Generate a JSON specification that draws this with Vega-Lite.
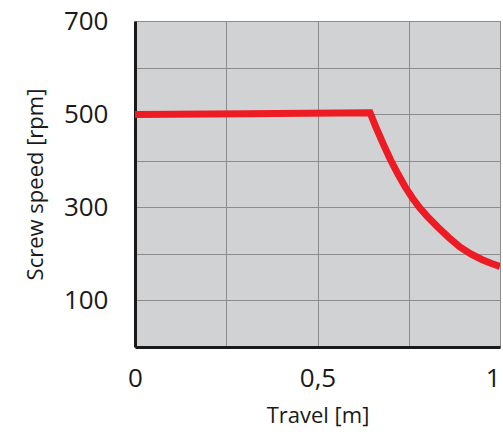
{
  "$schema": "https://vega.github.io/schema/vega-lite/v6.json",
  "autosize": "none",
  "width": 365,
  "height": 326,
  "padding": {"left": 135, "top": 21, "right": 3, "bottom": 85},
  "background": "white",
  "config": {
    "view": {"fill": "#D1D2D4", "stroke": "#8C8C8C", "strokeWidth": 1},
    "font": "Open Sans",
    "axis": {
      "grid": true,
      "gridColor": "#8C8C8C",
      "gridWidth": 1,
      "gridOpacity": 1,
      "ticks": false,
      "domainColor": "#1a1a1a",
      "domainWidth": 3,
      "labelColor": "#1a1a1a",
      "titleColor": "#1a1a1a",
      "labelFont": "Open Sans",
      "titleFont": "Open Sans",
      "labelFontSize": 26,
      "titleFontSize": 22,
      "titleFontWeight": "normal"
    }
  },
  "data": {
    "values": [
      {"travel": 0.0, "speed": 499},
      {"travel": 0.3, "speed": 501},
      {"travel": 0.644, "speed": 503},
      {"travel": 0.66, "speed": 472},
      {"travel": 0.68, "speed": 436},
      {"travel": 0.70, "speed": 402},
      {"travel": 0.72, "speed": 372},
      {"travel": 0.74, "speed": 344},
      {"travel": 0.76, "speed": 320},
      {"travel": 0.78, "speed": 299},
      {"travel": 0.80, "speed": 281},
      {"travel": 0.83, "speed": 257},
      {"travel": 0.86, "speed": 235},
      {"travel": 0.89, "speed": 215},
      {"travel": 0.92, "speed": 200},
      {"travel": 0.95, "speed": 188},
      {"travel": 0.975, "speed": 180},
      {"travel": 1.0, "speed": 173}
    ]
  },
  "mark": {"type": "line", "color": "#ED1C24", "strokeWidth": 7, "interpolate": "linear", "strokeJoin": "miter", "clip": true},
  "encoding": {
    "x": {
      "field": "travel",
      "type": "quantitative",
      "scale": {"domain": [0, 1], "nice": false, "zero": false},
      "axis": {
        "title": "Travel [m]",
        "values": [0, 0.25, 0.5, 0.75, 1],
        "labelExpr": "datum.value == 0 ? '0' : datum.value == 0.5 ? '0,5' : datum.value == 1 ? '1' : ''",
        "labelAlign": {"condition": {"test": "datum.value == 1", "value": "right"}, "value": "center"},
        "labelPadding": 18,
        "titlePadding": 14,
        "labelFlush": false,
        "labelOverlap": false
      }
    },
    "y": {
      "field": "speed",
      "type": "quantitative",
      "scale": {"domain": [0, 700], "nice": false},
      "axis": {
        "title": "Screw speed [rpm]",
        "values": [0, 100, 200, 300, 400, 500, 600, 700],
        "labelExpr": "datum.value == 100 || datum.value == 300 || datum.value == 500 || datum.value == 700 ? datum.label : ''",
        "labelPadding": 27,
        "titlePadding": 16,
        "labelOverlap": false,
        "labelFlush": false
      }
    }
  }
}
